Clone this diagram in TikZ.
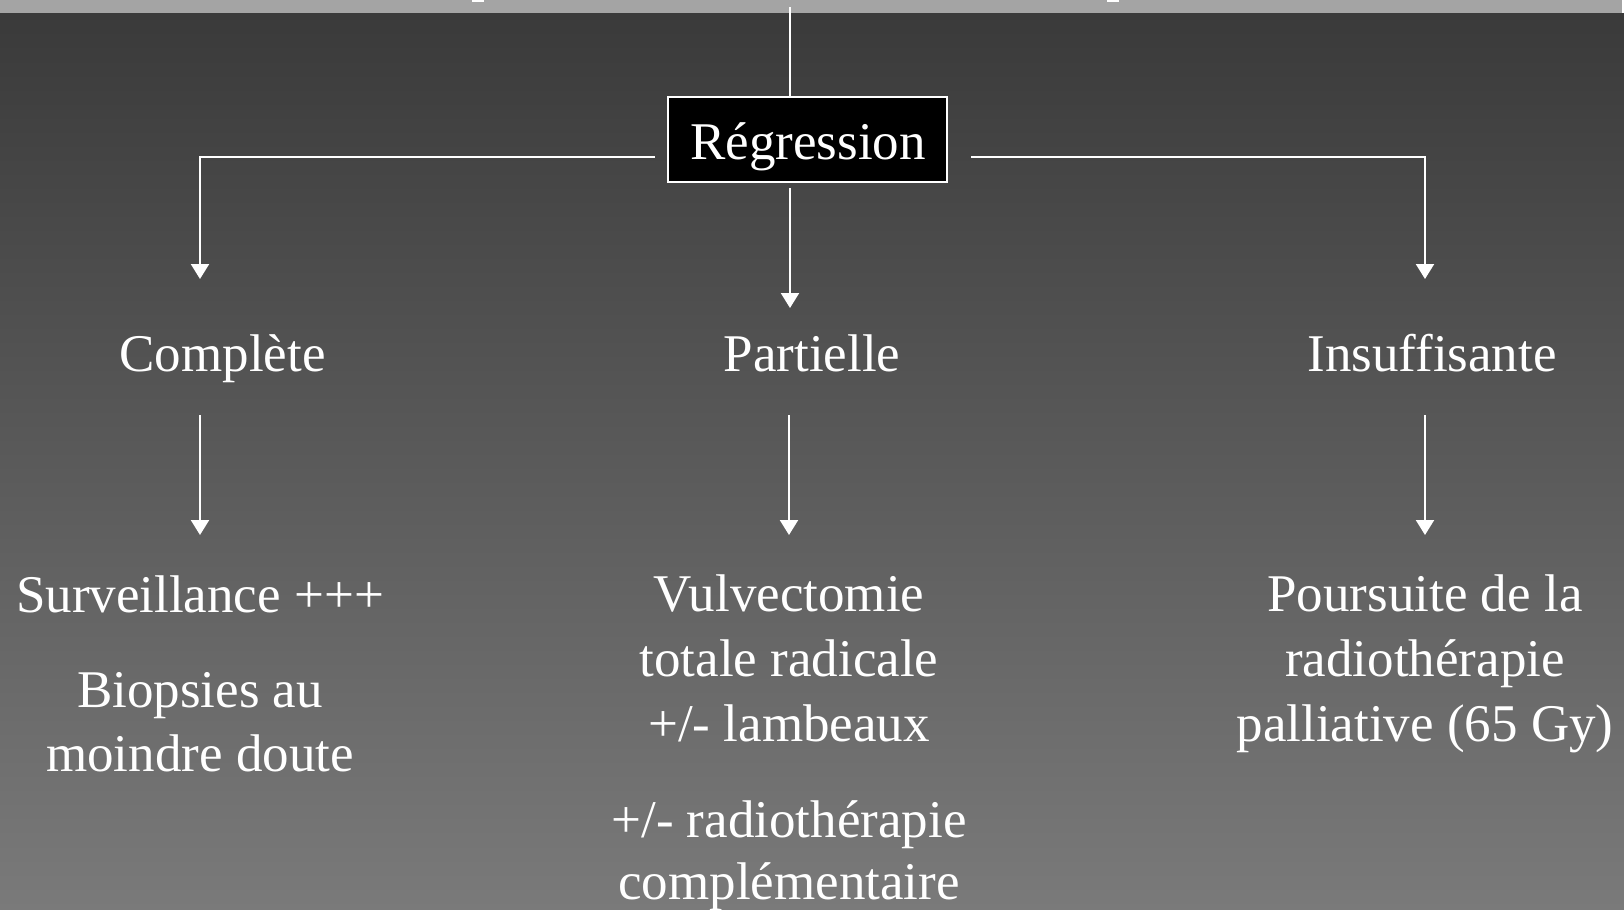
\documentclass[tikz,border=0pt]{standalone}
\usepackage{fontspec}
\setmainfont{Liberation Serif}
\usetikzlibrary{arrows.meta}
\definecolor{strip}{HTML}{A4A4A4}
\definecolor{bgtop}{HTML}{3A3A3A}
\definecolor{bgmid}{HTML}{626262}
\definecolor{bgbot}{HTML}{7A7A7A}
\tikzset{
  line/.style={draw=white, line width=1.1pt},
  arr/.style={line, -{Triangle[width=9pt,length=7.5pt]}},
  lbl/.style={text=white, inner sep=0pt, anchor=base, font=\fontsize{26.5}{32.5}\selectfont},
  regbox/.style={draw=white, fill=black, line width=0.8pt, minimum width=139.5pt, minimum height=42.5pt, inner sep=0pt},
}
\begin{document}
\begin{tikzpicture}[x=0.5pt,y=-0.5pt]
\useasboundingbox (0,0) rectangle (1624,910);
\shade[top color=bgtop, middle color=bgmid, bottom color=bgbot] (0,13) rectangle (1624,910);
\fill[strip] (0,0) rectangle (1622,13);
\fill[white] (472,0) rectangle (484,1.5);
\fill[white] (1107,0) rectangle (1119,1.5);

% root box
\node[regbox] (reg) at (807.5,139.5) {};
\node[lbl] (regt) at (808,159) {Régression};

% connector coordinates
\coordinate (top) at (790,7);
\coordinate (hl) at (655,157);
\coordinate (hr) at (971,157);
\coordinate (tipL) at (200,279);
\coordinate (tipR) at (1425,279);
\coordinate (ms) at (790,188);
\coordinate (tipM) at (790,308);

\draw[line] (top) -- (top |- reg.north);
\draw[arr] (hl) -| (tipL);
\draw[arr] (hr) -| (tipR);
\draw[arr] (ms) -- (tipM);

% level 2
\node[lbl] (comp) at (222.5,371) {Complète};
\node[lbl] (part) at (812,371) {Partielle};
\node[lbl] (insuf) at (1432,371) {Insuffisante};

\coordinate (l1) at (200,415);
\coordinate (l2) at (200,535);
\coordinate (m1) at (789,415);
\coordinate (m2) at (789,535);
\coordinate (r1) at (1425,415);
\coordinate (r2) at (1425,535);
\draw[arr] (l1) -- (l2);
\draw[arr] (m1) -- (m2);
\draw[arr] (r1) -- (r2);

% level 3 left
\node[lbl] (la) at (200,612) {Surveillance +++};
\node[lbl] (lb) at (200,707) {Biopsies au};
\node[lbl] (lc) at (200,771) {moindre doute};

% level 3 middle
\node[lbl] (ma) at (789,611) {Vulvectomie};
\node[lbl] (mb) at (789,676) {totale radicale};
\node[lbl] (mc) at (789,741) {+/- lambeaux};
\node[lbl] (md) at (789,837) {+/- radiothérapie};
\node[lbl] (me) at (789,899) {complémentaire};

% level 3 right
\node[lbl] (ra) at (1425,611) {Poursuite de la};
\node[lbl] (rb) at (1425,676) {radiothérapie};
\node[lbl] (rc) at (1425,741) {palliative (65 Gy)};
\end{tikzpicture}
\end{document}
